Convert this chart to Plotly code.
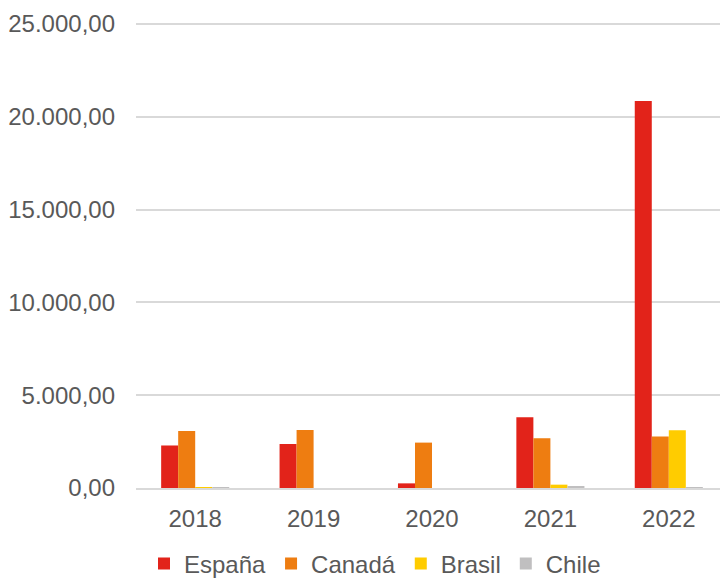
import plotly.graph_objects as go

years = ["2018", "2019", "2020", "2021", "2022"]
espana = [2290, 2370, 250, 3810, 20850]
canada = [3070, 3125, 2445, 2680, 2770]
brasil = [30, 0, 0, 180, 3110]
chile = [10, 0, 0, 75, 40]

series = [
    ("España", espana, "#E2231A"),
    ("Canadá", canada, "#EE7D11"),
    ("Brasil", brasil, "#FFCC00"),
    ("Chile", chile, "#C0BFC0"),
]

fig = go.Figure()
for name, vals, col in series:
    fig.add_trace(go.Bar(x=years, y=vals, name=name, marker_color=col,
                         marker_line_width=0))

font = "Liberation Sans, Arial, sans-serif"
fig.update_layout(
    width=720, height=571,
    margin=dict(l=128, r=0, t=14, b=91, autoexpand=False),
    paper_bgcolor="white", plot_bgcolor="white",
    barmode="group", bargap=0.425, bargroupgap=0,
    separators=",.",
    font=dict(family=font, size=24, color="#595959"),
    showlegend=True,
    legend=dict(orientation="h", x=(367 - 128) / 592, xanchor="center",
                y=-0.163, yanchor="middle",
                font=dict(size=24, color="#595959"), itemwidth=30,
                traceorder="normal"),
    yaxis=dict(range=[0, 25100], tickvals=[0, 5000, 10000, 15000, 20000, 25000],
               tickformat=",.2f", showgrid=True, gridcolor="#D9D9D9", gridwidth=1.5,
               zeroline=False, showline=False, ticks="", ticklabelstandoff=20),
    xaxis=dict(showline=True, linecolor="#D9D9D9", linewidth=1.5, ticks="",
               ticklabelstandoff=8),
)

fig.write_html("out.html")
